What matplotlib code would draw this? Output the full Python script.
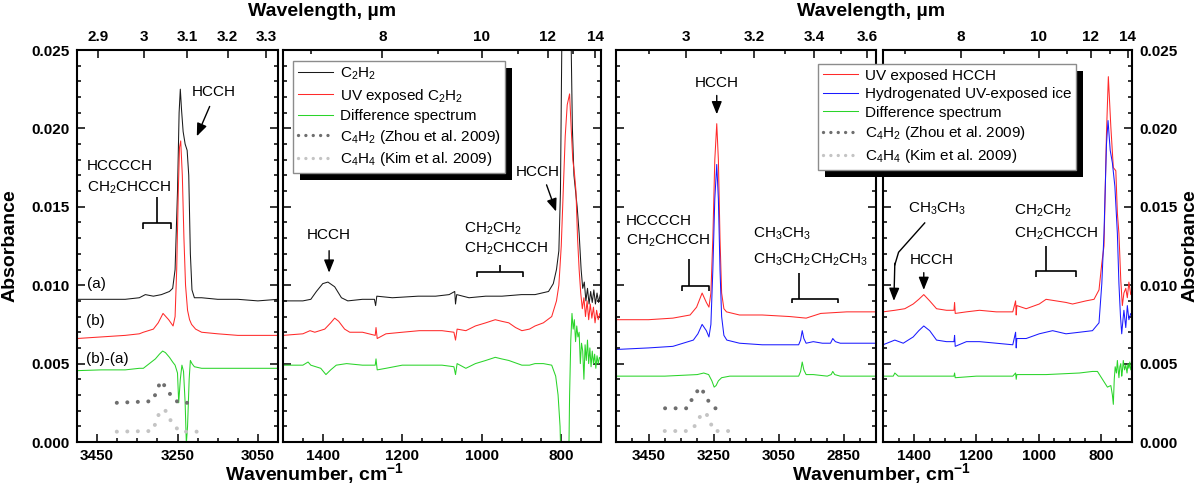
import numpy as np
import matplotlib
matplotlib.use('Agg')
import matplotlib.pyplot as plt
from matplotlib.patches import Rectangle
from matplotlib.lines import Line2D
from matplotlib.ticker import MultipleLocator

plt.rcParams['font.family'] = ['Liberation Sans', 'DejaVu Sans']
plt.rcParams['mathtext.fontset'] = 'custom'
plt.rcParams['mathtext.rm'] = 'Liberation Sans'
plt.rcParams['mathtext.it'] = 'Liberation Sans:italic'
plt.rcParams['mathtext.bf'] = 'Liberation Sans:bold'

# ---------------- data ----------------
# Panel 1 : C-H stretch region, pure C2H2 experiment
p1_wn_a = [3500, 3440, 3380, 3345, 3330, 3310, 3290, 3270, 3262, 3256, 3250, 3246, 3243, 3240, 3236, 3231, 3226, 3222, 3218, 3214, 3208, 3190, 3150, 3100, 3050, 3000]
p1_abs_a = [0.0091, 0.0091, 0.0091, 0.0092, 0.0094, 0.0093, 0.0094, 0.0096, 0.0098, 0.0110, 0.0160, 0.0210, 0.0225, 0.0212, 0.0198, 0.0190, 0.0186, 0.0170, 0.0120, 0.0097, 0.0092, 0.0092, 0.0091, 0.0091, 0.0090, 0.0091]
p1_wn_b = [3500, 3440, 3380, 3345, 3335, 3310, 3298, 3286, 3272, 3261, 3256, 3252, 3248, 3245, 3242, 3238, 3234, 3230, 3225, 3220, 3215, 3205, 3190, 3150, 3100, 3050, 3000]
p1_abs_b = [0.0066, 0.0067, 0.0068, 0.0069, 0.0070, 0.0072, 0.0076, 0.0082, 0.0078, 0.0074, 0.0080, 0.0110, 0.0160, 0.0188, 0.0192, 0.0170, 0.0130, 0.0100, 0.0084, 0.0078, 0.0075, 0.0072, 0.0070, 0.0069, 0.0068, 0.0068, 0.0068]
p1_wn_d = [3500, 3440, 3380, 3345, 3335, 3320, 3305, 3295, 3287, 3280, 3270, 3262, 3256, 3250, 3247, 3243, 3239, 3235, 3231, 3228, 3225, 3221, 3218, 3214, 3208, 3190, 3150, 3100, 3050, 3000]
p1_abs_d = [0.00455, 0.0046, 0.0046, 0.0047, 0.0047, 0.0050, 0.0053, 0.0056, 0.0058, 0.0057, 0.0054, 0.0051, 0.0049, 0.0044, 0.0025, 0.0040, 0.0049, 0.0045, 0.0025, -0.0001, 0.0010, 0.0040, 0.0052, 0.0050, 0.0048, 0.0047, 0.0047, 0.0047, 0.0047, 0.0047]
p1_wn_c4h2 = [3401, 3313, 3302, 3292, 3276, 3263, 3246, 3209]
p1_abs_c4h2 = [0.0025, 0.0026, 0.0032, 0.0039, 0.0034, 0.0028, 0.0025, 0.0025]
p1_wn_c4h4 = [3401, 3313, 3301, 3294, 3280, 3272, 3261, 3243, 3184]
p1_abs_c4h4 = [0.00066, 0.0007, 0.0014, 0.0020, 0.0020, 0.0016, 0.0011, 0.00066, 0.00066]

# Panel 2 : fingerprint region, pure C2H2 experiment
p2_wn_a = [1500, 1450, 1430, 1416, 1400, 1387, 1370, 1353, 1337, 1300, 1270, 1267, 1264, 1225, 1160, 1116, 1082, 1068, 1066, 1063, 1032, 990, 949, 900, 866, 832, 820, 812, 806, 802, 798, 795, 780, 776, 772, 768, 764, 760, 755, 750, 746, 742, 738, 734, 730, 726, 722, 718, 714, 710, 706, 702, 700]
p2_abs_a = [0.0090, 0.0090, 0.0091, 0.0096, 0.0101, 0.0102, 0.0099, 0.0092, 0.0090, 0.0091, 0.0091, 0.0087, 0.0093, 0.0092, 0.0093, 0.0093, 0.0094, 0.0096, 0.0088, 0.0094, 0.0092, 0.0093, 0.0093, 0.0094, 0.0094, 0.0096, 0.0101, 0.0110, 0.0122, 0.0160, 0.0270, 0.0300, 0.0300, 0.0270, 0.0200, 0.0170, 0.0160, 0.0150, 0.0133, 0.0110, 0.0098, 0.0102, 0.0090, 0.0098, 0.0088, 0.0096, 0.0089, 0.0097, 0.0088, 0.0095, 0.0089, 0.0094, 0.0091]
p2_wn_b = [1500, 1450, 1432, 1420, 1395, 1380, 1370, 1360, 1345, 1332, 1300, 1268, 1266, 1263, 1241, 1200, 1157, 1100, 1070, 1066, 1062, 1040, 1016, 990, 966, 950, 932, 915, 899, 880, 866, 845, 824, 812, 806, 800, 795, 790, 785, 779, 775, 771, 767, 763, 759, 755, 751, 747, 743, 739, 735, 731, 727, 723, 719, 715, 711, 707, 703, 700]
p2_abs_b = [0.0068, 0.0069, 0.0071, 0.0070, 0.0072, 0.0076, 0.0079, 0.0077, 0.0072, 0.0070, 0.0070, 0.0068, 0.0073, 0.0066, 0.0069, 0.0070, 0.0071, 0.0071, 0.0070, 0.0065, 0.0072, 0.0071, 0.0074, 0.0076, 0.0078, 0.0077, 0.0076, 0.0073, 0.0071, 0.0072, 0.0074, 0.0076, 0.0080, 0.0090, 0.0100, 0.0125, 0.0160, 0.0195, 0.0215, 0.0222, 0.0200, 0.0180, 0.0172, 0.0160, 0.0130, 0.0110, 0.0095, 0.0085, 0.0092, 0.0080, 0.0090, 0.0078, 0.0088, 0.0079, 0.0086, 0.0076, 0.0084, 0.0078, 0.0082, 0.0080]
p2_wn_d = [1500, 1450, 1437, 1430, 1405, 1392, 1380, 1366, 1340, 1300, 1268, 1266, 1263, 1241, 1200, 1157, 1100, 1070, 1066, 1062, 1040, 1016, 990, 966, 950, 932, 899, 880, 866, 845, 824, 814, 808, 803, 799, 782, 779, 776, 773, 770, 767, 764, 761, 758, 755, 752, 749, 746, 743, 740, 737, 734, 731, 728, 725, 722, 719, 716, 713, 710, 707, 704, 700]
p2_abs_d = [0.0049, 0.0049, 0.0051, 0.0049, 0.0047, 0.0043, 0.0046, 0.0049, 0.0050, 0.0049, 0.0049, 0.0053, 0.0046, 0.0047, 0.0049, 0.0049, 0.0049, 0.0048, 0.0043, 0.0050, 0.0047, 0.0050, 0.0052, 0.0054, 0.0053, 0.0052, 0.0049, 0.0049, 0.0050, 0.0050, 0.0049, 0.0042, 0.0030, 0.0010, -0.0030, -0.0030, 0.0030, 0.0065, 0.0082, 0.0072, 0.0078, 0.0064, 0.0074, 0.0067, 0.0070, 0.0050, 0.0063, 0.0058, 0.0040, 0.0062, 0.0052, 0.0065, 0.0050, 0.0060, 0.0048, 0.0058, 0.0050, 0.0056, 0.0047, 0.0055, 0.0050, 0.0054, 0.0052]

# Panel 3 : C-H stretch region, hydrogenation experiment
p3_wn_a = [3550, 3450, 3375, 3322, 3302, 3285, 3272, 3264, 3258, 3252, 3246, 3240, 3235, 3230, 3225, 3218, 3210, 3170, 3100, 3015, 2965, 2920, 2840, 2750]
p3_abs_a = [0.0078, 0.0078, 0.0079, 0.0081, 0.0086, 0.0095, 0.0089, 0.0086, 0.0095, 0.0130, 0.0180, 0.0203, 0.0180, 0.0130, 0.0095, 0.0085, 0.0083, 0.0081, 0.0081, 0.0080, 0.0079, 0.0082, 0.0083, 0.0083]
p3_wn_b = [3550, 3450, 3375, 3312, 3298, 3285, 3272, 3264, 3258, 3252, 3246, 3240, 3235, 3230, 3225, 3218, 3209, 3170, 3100, 3015, 2988, 2982, 2977, 2972, 2965, 2943, 2915, 2890, 2883, 2875, 2860, 2800, 2750]
p3_abs_b = [0.0059, 0.0060, 0.0061, 0.0065, 0.0069, 0.0075, 0.0071, 0.0067, 0.0075, 0.0110, 0.0155, 0.0177, 0.0155, 0.0110, 0.0080, 0.0068, 0.0065, 0.0063, 0.0062, 0.0062, 0.0062, 0.0065, 0.0071, 0.0066, 0.0063, 0.0064, 0.0063, 0.0063, 0.0066, 0.0064, 0.0063, 0.0063, 0.0063]
p3_wn_d = [3550, 3400, 3300, 3280, 3265, 3255, 3248, 3242, 3235, 3225, 3200, 3100, 3000, 2988, 2982, 2977, 2972, 2965, 2943, 2900, 2888, 2883, 2877, 2860, 2750]
p3_abs_d = [0.0042, 0.0042, 0.0043, 0.0044, 0.0043, 0.0039, 0.0035, 0.0036, 0.0039, 0.0041, 0.0042, 0.0042, 0.0042, 0.0042, 0.0045, 0.0051, 0.0046, 0.0043, 0.0043, 0.0042, 0.0043, 0.0045, 0.0043, 0.0042, 0.0042]
p3_wn_c4h2 = [3399, 3330, 3317, 3304, 3292, 3278, 3269, 3245, 3220]
p3_abs_c4h2 = [0.00215, 0.00215, 0.0027, 0.0031, 0.0035, 0.0031, 0.0027, 0.00215, 0.00215]
p3_wn_c4h4 = [3400, 3330, 3312, 3302, 3292, 3276, 3266, 3259, 3248, 3184]
p3_abs_c4h4 = [0.0007, 0.0007, 0.0009, 0.0012, 0.0016, 0.0019, 0.0016, 0.0012, 0.0007, 0.0007]

# Panel 4 : fingerprint region, hydrogenation experiment
p4_wn_a = [1500, 1462, 1430, 1403, 1385, 1369, 1350, 1328, 1296, 1272, 1270, 1268, 1232, 1190, 1136, 1083, 1074, 1072, 1070, 1040, 998, 976, 944, 912, 891, 848, 822, 806, 797, 790, 782, 776, 768, 760, 752, 747, 742, 736, 731, 726, 720, 715, 710, 704, 700]
p4_abs_a = [0.0083, 0.0084, 0.0085, 0.0088, 0.0091, 0.0094, 0.0090, 0.0085, 0.0084, 0.0084, 0.0089, 0.0082, 0.0083, 0.0084, 0.0083, 0.0083, 0.0090, 0.0081, 0.0087, 0.0085, 0.0088, 0.0091, 0.0090, 0.0089, 0.0088, 0.0090, 0.0091, 0.0097, 0.0114, 0.0125, 0.0197, 0.0233, 0.0201, 0.0175, 0.0173, 0.0146, 0.0133, 0.0103, 0.0087, 0.0095, 0.0098, 0.0092, 0.0102, 0.0094, 0.0096]
p4_wn_b = [1500, 1462, 1435, 1403, 1385, 1369, 1350, 1328, 1296, 1272, 1270, 1268, 1232, 1190, 1136, 1083, 1074, 1072, 1070, 1040, 998, 955, 912, 869, 827, 806, 797, 790, 782, 777, 770, 763, 755, 747, 742, 737, 733, 729, 726, 720, 715, 710, 704, 700]
p4_abs_b = [0.0062, 0.0065, 0.0063, 0.0067, 0.0071, 0.0074, 0.0071, 0.0065, 0.0064, 0.0064, 0.0068, 0.0061, 0.0064, 0.0064, 0.0063, 0.0062, 0.0070, 0.0060, 0.0066, 0.0066, 0.0069, 0.0071, 0.0069, 0.0070, 0.0071, 0.0076, 0.0101, 0.0133, 0.0190, 0.0205, 0.0186, 0.0178, 0.0163, 0.0133, 0.0101, 0.0080, 0.0069, 0.0078, 0.0084, 0.0073, 0.0087, 0.0078, 0.0082, 0.0080]
p4_wn_d = [1500, 1467, 1462, 1451, 1400, 1296, 1272, 1270, 1268, 1200, 1083, 1074, 1072, 1070, 976, 869, 827, 811, 795, 779, 768, 763, 760, 757, 754, 750, 747, 744, 742, 739, 736, 733, 731, 728, 724, 720, 716, 713, 710, 707, 704, 700]
p4_abs_d = [0.0042, 0.0042, 0.0044, 0.0042, 0.0042, 0.0042, 0.0042, 0.0044, 0.0041, 0.0042, 0.0042, 0.0044, 0.0040, 0.0043, 0.0043, 0.0044, 0.0045, 0.0045, 0.0040, 0.0035, 0.0036, 0.0030, 0.0024, 0.0040, 0.0048, 0.0044, 0.0052, 0.0045, 0.0041, 0.0048, 0.0050, 0.0042, 0.0045, 0.0052, 0.0046, 0.0049, 0.0044, 0.0050, 0.0047, 0.0051, 0.0046, 0.0049]

# tick values
y_ticks = [0.000, 0.005, 0.010, 0.015, 0.020, 0.025]
y_ticklabels = ['0.000', '0.005', '0.010', '0.015', '0.020', '0.025']
x_ticks_ch = [3450, 3250, 3050, 2850]
x_ticks_fp = [1400, 1200, 1000, 800]
wl_p1 = [2.9, 3.0, 3.1, 3.2, 3.3]
wl_p1_labels = ['2.9', '3', '3.1', '3.2', '3.3']
wl_p3 = [3.0, 3.2, 3.4, 3.6]
wl_p3_labels = ['3', '3.2', '3.4', '3.6']
wl_p3_minor = [2.9, 3.1, 3.3, 3.5]
wl_fp = [8, 10, 12, 14]
wl_fp_labels = ['8', '10', '12', '14']
wl_fp_minor = [7, 9, 11, 13]

legend1_labels = ['C$_2$H$_2$', 'UV exposed C$_2$H$_2$', 'Difference spectrum',
                  'C$_4$H$_2$ (Zhou et al. 2009)', 'C$_4$H$_4$ (Kim et al. 2009)']
legend2_labels = ['UV exposed HCCH', 'Hydrogenated UV-exposed ice', 'Difference spectrum',
                  'C$_4$H$_2$ (Zhou et al. 2009)', 'C$_4$H$_4$ (Kim et al. 2009)']

# ---------------- styles ----------------
W, H = 1200, 499
C_BLACK = '#1a1a1a'
C_RED = '#ff2a2a'
C_GREEN = '#2ad42a'
C_BLUE = '#1a1aff'
C_DARK = '#6e6e6e'
C_LIGHT = '#c4c4c4'
LW = 0.75
DOT = dict(lw=2.9, linestyle=(0, (0.01, 2.6)), dash_capstyle='round')
TFS = 11
ANN = 11

fig = plt.figure(figsize=(W / 100, H / 100), dpi=100)


def make_ax(x0, x1, y0=50, y1=442):
    return fig.add_axes([x0 / W, 1 - y1 / H, (x1 - x0) / W, (y1 - y0) / H])


def style(ax, xlim, xt, wl_major, wl_labels, wl_minor, labelleft=False, labelright=False):
    ax.set_xlim(*xlim)
    ax.set_ylim(0, 0.025)
    xt_in = [t for t in xt if min(xlim) <= t <= max(xlim)]
    ax.set_xticks(xt_in, labels=[str(t) for t in xt_in], fontsize=TFS, fontweight='bold')
    ax.xaxis.set_minor_locator(MultipleLocator(50))
    ax.set_yticks(y_ticks, labels=y_ticklabels, fontsize=TFS, fontweight='bold')
    ax.yaxis.set_minor_locator(MultipleLocator(0.001))
    ax.tick_params(which='both', direction='in', left=True, right=True, top=False, bottom=True,
                   labelleft=labelleft, labelright=labelright, width=1.1)
    ax.tick_params(which='major', length=5.5, pad=5)
    ax.tick_params(which='minor', length=3)
    for s in ax.spines.values():
        s.set_linewidth(1.5)
    top = ax.twiny()
    top.set_xlim(*xlim)
    top.set_xticks([1e4 / w for w in wl_major], labels=wl_labels, fontsize=TFS, fontweight='bold')
    top.set_xticks([1e4 / w for w in wl_minor], minor=True)
    top.tick_params(which='both', direction='in', top=True, bottom=False, labeltop=True, width=1.1)
    top.tick_params(which='major', length=5.5, pad=4)
    top.tick_params(which='minor', length=3)
    for s in top.spines.values():
        s.set_visible(False)
    return top


ax1 = make_ax(77, 278)
ax2 = make_ax(283, 601)
ax3 = make_ax(616, 876)
ax4 = make_ax(883, 1132)

style(ax1, (3500, 3000), x_ticks_ch, wl_p1, wl_p1_labels, [], labelleft=True)
style(ax2, (1500, 700), x_ticks_fp, wl_fp, wl_fp_labels, wl_fp_minor)
style(ax3, (3550, 2750), x_ticks_ch, wl_p3, wl_p3_labels, wl_p3_minor)
style(ax4, (1500, 700), x_ticks_fp, wl_fp, wl_fp_labels, wl_fp_minor, labelright=True)

# ---------------- curves ----------------
ax1.plot(p1_wn_a, p1_abs_a, color=C_BLACK, lw=LW)
ax1.plot(p1_wn_b, p1_abs_b, color=C_RED, lw=LW)
ax1.plot(p1_wn_d, p1_abs_d, color=C_GREEN, lw=LW)
ax1.plot(p1_wn_c4h2, p1_abs_c4h2, color=C_DARK, **DOT)
ax1.plot(p1_wn_c4h4, p1_abs_c4h4, color=C_LIGHT, **DOT)

ax2.plot(p2_wn_a, p2_abs_a, color=C_BLACK, lw=LW)
ax2.plot(p2_wn_b, p2_abs_b, color=C_RED, lw=LW)
ax2.plot(p2_wn_d, p2_abs_d, color=C_GREEN, lw=LW)

ax3.plot(p3_wn_a, p3_abs_a, color=C_RED, lw=LW)
ax3.plot(p3_wn_b, p3_abs_b, color=C_BLUE, lw=LW)
ax3.plot(p3_wn_d, p3_abs_d, color=C_GREEN, lw=LW)
ax3.plot(p3_wn_c4h2, p3_abs_c4h2, color=C_DARK, **DOT)
ax3.plot(p3_wn_c4h4, p3_abs_c4h4, color=C_LIGHT, **DOT)

ax4.plot(p4_wn_a, p4_abs_a, color=C_RED, lw=LW)
ax4.plot(p4_wn_b, p4_abs_b, color=C_BLUE, lw=LW)
ax4.plot(p4_wn_d, p4_abs_d, color=C_GREEN, lw=LW)

# ---------------- annotations ----------------
ARW = dict(arrowstyle='-|>,head_length=0.55,head_width=0.22', color='k', lw=1.0,
           shrinkA=0, shrinkB=0, mutation_scale=14)
BR = dict(color='k', lw=1.2, solid_capstyle='butt', clip_on=False)


def bracket(ax, xl, xr, xv, y, ytop, ydrop):
    ax.plot([xl, xl, xr, xr], [ydrop, y, y, ydrop], **BR)
    ax.plot([xv, xv], [y, ytop], **BR)


# panel 1
ax1.text(3475, 0.0176, 'HCCCCH', fontsize=ANN, va='center', ha='left')
ax1.text(3475, 0.0162, 'CH$_2$CHCCH', fontsize=ANN, va='center', ha='left')
bracket(ax1, 3337, 3265, 3302, 0.01397, 0.0156, 0.0136)
ax1.text(3160, 0.0223, 'HCCH', fontsize=ANN, va='center', ha='center')
ax1.annotate('', xy=(3202, 0.0195), xytext=(3170, 0.0214), arrowprops=ARW)
ax1.text(3475, 0.0101, '(a)', fontsize=ANN, va='center', ha='left')
ax1.text(3477, 0.0077, '(b)', fontsize=ANN, va='center', ha='left')
ax1.text(3477, 0.0053, '(b)-(a)', fontsize=ANN, va='center', ha='left')

# panel 2
ax2.text(1384, 0.0132, 'HCCH', fontsize=ANN, va='center', ha='center')
ax2.annotate('', xy=(1384, 0.0108), xytext=(1384, 0.0122), arrowprops=ARW)
ax2.text(858, 0.0172, 'HCCH', fontsize=ANN, va='center', ha='center')
ax2.annotate('', xy=(813, 0.0147), xytext=(837, 0.0164), arrowprops=ARW)
ax2.text(1044, 0.0136, 'CH$_2$CH$_2$', fontsize=ANN, va='center', ha='left')
ax2.text(1044, 0.0123, 'CH$_2$CHCCH', fontsize=ANN, va='center', ha='left')
bracket(ax2, 1011, 895, 954, 0.01086, 0.0113, 0.0105)

# panel 3
ax3.text(3240, 0.0229, 'HCCH', fontsize=ANN, va='center', ha='center')
ax3.annotate('', xy=(3240, 0.0209), xytext=(3240, 0.0221), arrowprops=ARW)
ax3.text(3519, 0.0141, 'HCCCCH', fontsize=ANN, va='center', ha='left')
ax3.text(3519, 0.0128, 'CH$_2$CHCCH', fontsize=ANN, va='center', ha='left')
bracket(ax3, 3346, 3264, 3325, 0.00995, 0.01165, 0.0096)
ax3.text(3127, 0.0133, 'CH$_3$CH$_3$', fontsize=ANN, va='center', ha='left')
ax3.text(3127, 0.0116, 'CH$_3$CH$_2$CH$_2$CH$_3$', fontsize=ANN, va='center', ha='left')
bracket(ax3, 3009, 2866, 2987, 0.00912, 0.01078, 0.00886)

# panel 4
ax4.text(1419, 0.0149, 'CH$_3$CH$_3$', fontsize=ANN, va='center', ha='left')
ax4.plot([1366, 1450, 1462], [0.01397, 0.0121, 0.0113], color='k', lw=1.0)
ax4.annotate('', xy=(1465, 0.0090), xytext=(1462, 0.0114), arrowprops=ARW)
ax4.text(1344, 0.0116, 'HCCH', fontsize=ANN, va='center', ha='center')
ax4.annotate('', xy=(1369, 0.0097), xytext=(1369, 0.0108), arrowprops=ARW)
ax4.text(1078, 0.01475, 'CH$_2$CH$_2$', fontsize=ANN, va='center', ha='left')
ax4.text(1078, 0.0133, 'CH$_2$CHCCH', fontsize=ANN, va='center', ha='left')
bracket(ax4, 1008, 880, 976, 0.01092, 0.0125, 0.01054)

# ---------------- axis labels ----------------
LAB = dict(fontsize=14, fontweight='bold', ha='center', va='center')
fig.text(322 / W, 1 - 11 / H, 'Wavelength, \u00b5m', **LAB)
fig.text(871 / W, 1 - 11 / H, 'Wavelength, \u00b5m', **LAB)
fig.text(314 / W, 1 - 474 / H, r'Wavenumber, cm$^{\mathbf{-1}}$', **LAB)
fig.text(881 / W, 1 - 474 / H, r'Wavenumber, cm$^{\mathbf{-1}}$', **LAB)
fig.text(10 / W, 1 - 246 / H, 'Absorbance', rotation=90, **LAB)
fig.text(1190 / W, 1 - 246 / H, 'Absorbance', rotation=90, **LAB)

# ---------------- legends ----------------
def handles(c1, c2):
    return [Line2D([], [], color=c1, lw=LW), Line2D([], [], color=c2, lw=LW),
            Line2D([], [], color=C_GREEN, lw=LW),
            Line2D([], [], color=C_DARK, lw=2.4, linestyle=(0, (0.01, 2.2)), dash_capstyle='round'),
            Line2D([], [], color=C_LIGHT, lw=2.4, linestyle=(0, (0.01, 2.2)), dash_capstyle='round')]


LEG = dict(loc='upper left', frameon=True, fancybox=False, edgecolor='#8c8c8c', framealpha=1,
           fontsize=11, handlelength=2.3, handletextpad=0.45, labelspacing=0.3,
           borderpad=0.3, borderaxespad=0, facecolor='white')
leg1 = fig.legend(handles(C_BLACK, C_RED), legend1_labels, bbox_to_anchor=(293 / W, 1 - 61 / H), **LEG)
leg2 = fig.legend(handles(C_RED, C_BLUE), legend2_labels, bbox_to_anchor=(818 / W, 1 - 64 / H), **LEG)
for lg in (leg1, leg2):
    lg.get_frame().set_linewidth(1.0)
    lg.set_zorder(10)

fig.canvas.draw()
for lg in (leg1, leg2):
    bb = lg.get_window_extent().transformed(fig.transFigure.inverted())
    dx, dy = 7 / W, 7 / H
    fig.add_artist(Rectangle((bb.x0 + dx, bb.y0 - dy), bb.width, bb.height,
                             transform=fig.transFigure, facecolor='black', edgecolor='none', zorder=9))

fig.savefig('out.png', dpi=100)
